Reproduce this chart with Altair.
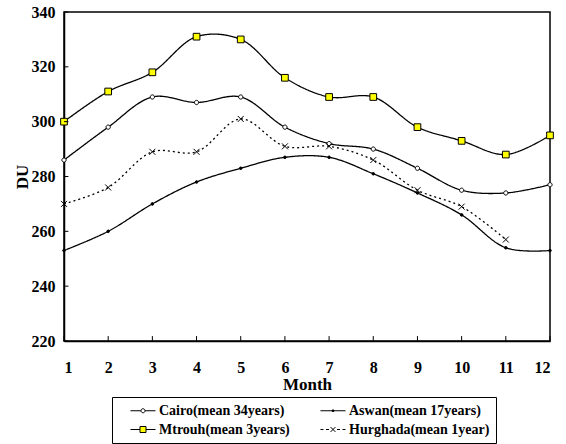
import altair as alt
import pandas as pd

months = list(range(1, 13))
series_names = ["Cairo(mean 34years)", "Aswan(mean 17years)", "Mtrouh(mean 3years)", "Hurghada(mean 1year)"]
cairo = [286, 298, 309, 307, 309, 298, 292, 290, 283, 275, 274, 277]
aswan = [253, 260, 270, 278, 283, 287, 287, 281, 274, 266, 254, 253]
mtrouh = [300, 311, 318, 331, 330, 316, 309, 309, 298, 293, 288, 295]
hurghada = [270, 276, 289, 289, 301, 291, 291, 286, 275, 269, 257]
y_ticks = [220, 240, 260, 280, 300, 320, 340]

rows = []
for name, vals in zip(series_names, [cairo, aswan, mtrouh, hurghada]):
    for m, v in zip(months, vals):
        rows.append({"month": m, "value": v, "series": name})
df = pd.DataFrame(rows)
xtick_df = pd.DataFrame({"month": months})
ytick_df = pd.DataFrame({"value": y_ticks})

FONT = "Liberation Serif"

xscale = alt.Scale(domain=[1, 12], nice=False)
yscale = alt.Scale(domain=[220, 340], nice=False)

xenc = alt.X("month:Q", scale=xscale,
             axis=alt.Axis(title="Month", values=months, format="d", grid=False, ticks=False,
                           labelFont=FONT, labelFontSize=16, labelFontWeight="bold", labelPadding=18,
                           titleFont=FONT, titleFontSize=17, titleFontWeight="bold", titlePadding=1,
                           domainColor="black", domainWidth=1.5, labelColor="black", titleColor="black"))
yenc = alt.Y("value:Q", scale=yscale,
             axis=alt.Axis(title="DU", values=y_ticks, grid=False, ticks=False,
                           labelFont=FONT, labelFontSize=16, labelFontWeight="bold", labelPadding=9,
                           titleFont=FONT, titleFontSize=17, titleFontWeight="bold", titlePadding=0,
                           domainColor="black", domainWidth=1.5, labelColor="black", titleColor="black"))

lines = alt.Chart(df).mark_line(interpolate="catmull-rom", color="black", strokeWidth=1.3).encode(
    x=xenc, y=yenc,
    detail="series:N",
    strokeDash=alt.StrokeDash("series:N", scale=alt.Scale(domain=series_names,
                              range=[[1, 0], [1, 0], [1, 0], [2, 3]]), legend=None),
)

CIRCLE = "M-1,0A1,1,0,1,0,1,0A1,1,0,1,0,-1,0"
XPATH = "M-1,-1L1,1M-1,1L1,-1"
point_styles = [
    (series_names[0], CIRCLE, "white", 18),
    (series_names[1], CIRCLE, "black", 7),
    (series_names[2], "square", "#ffff00", 45),
    (series_names[3], XPATH, "white", 36),
]
point_layers = []
for name, shp, fillc, sz in point_styles:
    point_layers.append(
        alt.Chart(df).transform_filter(alt.datum.series == name).mark_point(
            shape=shp, fill=fillc, filled=True, stroke="black", strokeWidth=1, size=sz, opacity=1
        ).encode(x="month:Q", y="value:Q")
    )

xticks = alt.Chart(xtick_df).mark_rule(color="black", strokeWidth=1).encode(
    x="month:Q", y=alt.datum(220), y2=alt.datum(221.8)
)
yticks = alt.Chart(ytick_df).mark_rule(color="black", strokeWidth=1).encode(
    y="value:Q", x=alt.datum(1), x2=alt.datum(1.1)
)

legend_order = [series_names[0], series_names[2], series_names[1], series_names[3]]
leg_shapes = [
    "M0.71,0H2.21M2.79,0H4.29M2.21,0A0.29,0.29,0,1,0,2.79,0A0.29,0.29,0,1,0,2.21,0",
    "M0.71,0H2.07M2.93,0H4.29M2.07,-0.43H2.93V0.43H2.07Z",
    "M0.71,0H4.29M2.36,0A0.14,0.14,0,1,0,2.64,0A0.14,0.14,0,1,0,2.36,0",
    "M0.71,0H1.14M1.5,0H1.93M3.07,0H3.5M3.86,0H4.29M2.15,-0.35L2.85,0.35M2.15,0.35L2.85,-0.35",
]
leg_fills = ["white", "#ffff00", "black", "white"]


def make_legend():
    return alt.Legend(title=None, orient="none", legendX=48, legendY=385,
                      columns=2, columnPadding=18, rowPadding=4,
                      symbolSize=196, symbolStrokeWidth=1, symbolStrokeColor="black",
                      labelFont=FONT, labelFontSize=14, labelFontWeight="bold",
                      labelColor="black", labelLimit=300, labelOffset=26,
                      labelExpr="datum.label + '   '",
                      strokeColor="black", fillColor="white", padding=6,
                      symbolOpacity=1)


legend_layer = alt.Chart(df).transform_filter("datum.value < 0").mark_point(
    filled=True, strokeWidth=1, opacity=1, size=196).encode(
    x="month:Q", y="value:Q",
    shape=alt.Shape("series:N", scale=alt.Scale(domain=legend_order, range=leg_shapes),
                    legend=make_legend()),
    fill=alt.Fill("series:N", scale=alt.Scale(domain=legend_order, range=leg_fills),
                  legend=make_legend()),
    stroke=alt.Stroke("series:N", scale=alt.Scale(domain=legend_order, range=["black"] * 4),
                      legend=make_legend()),
)

chart = alt.layer(lines, *point_layers, xticks, yticks, legend_layer).properties(
    width=486, height=329,
    autosize=alt.AutoSizeParams(type="none"),
    padding={"left": 64, "top": 12, "right": 16, "bottom": 103},
    background="white",
).configure_view(stroke="black", strokeWidth=1.5)

chart.save("out.html", embed_options={"renderer": "svg", "actions": False})
